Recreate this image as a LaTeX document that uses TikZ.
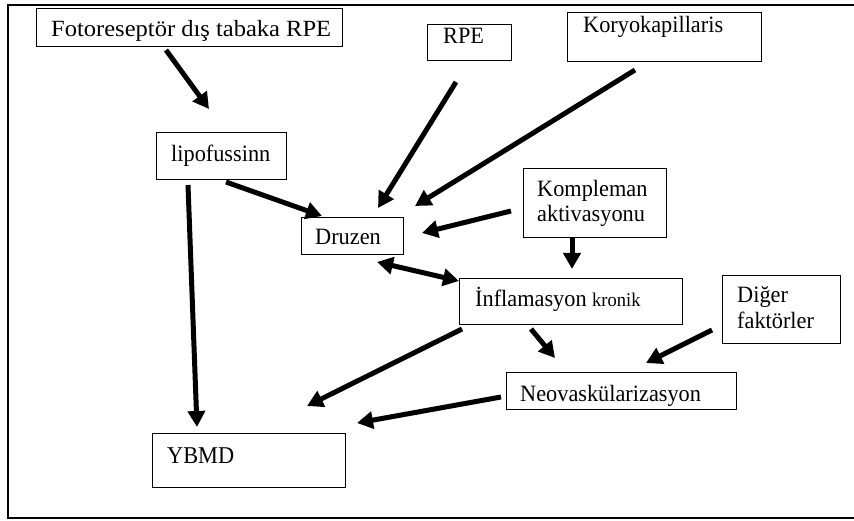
\documentclass[tikz,border=0pt]{standalone}
\usepackage{fontspec}
\setmainfont{Liberation Serif}
\usetikzlibrary{arrows.meta}
\begin{document}
\begin{tikzpicture}[x=1pt,y=-1pt,
  box/.style={draw,line width=1.4pt,rectangle,inner sep=0pt,anchor=north west},
  txt/.style={anchor=base west,inner sep=0pt,font=\fontsize{22.3}{25}\selectfont},
  arr/.style={line width=5pt,-{Triangle[length=16pt,width=17pt]}},
  darr/.style={line width=5pt,{Triangle[length=16pt,width=17pt]}-{Triangle[length=16pt,width=17pt]}}]
\useasboundingbox (0,0) rectangle (854,521);
% frame (open on the right)
\draw[line width=2pt] (856,5) -- (8,5) -- (8,518) -- (856,518);
% boxes
\node[box,minimum width=306pt,minimum height=38pt] (foto) at (36,8) {};
\node[box,minimum width=130pt,minimum height=47pt] (lipo) at (156,132) {};
\node[box,minimum width=102pt,minimum height=37pt] (druz) at (301,217) {};
\node[box,minimum width=84pt,minimum height=36pt] (rpe) at (427,24) {};
\node[box,minimum width=194pt,minimum height=49pt] (kory) at (567,12) {};
\node[box,minimum width=143pt,minimum height=69pt] (komp) at (523,168) {};
\node[box,minimum width=223pt,minimum height=46pt] (infl) at (459,278) {};
\node[box,minimum width=118pt,minimum height=68pt] (diger) at (722,275) {};
\node[box,minimum width=230pt,minimum height=37pt] (neo) at (506,372) {};
\node[box,minimum width=193pt,minimum height=54pt] (ybmd) at (152,433) {};
% texts
\node[txt] (foto-t) at (51,36.5) {\scalebox{1.1}[1.04]{Fotoreseptör dış tabaka RPE}};
\node[txt] (lipo-t) at (171,162) {\scalebox{1}[1.05]{lipofussinn}};
\node[txt] (druz-t) at (315,245) {\scalebox{1}[1.05]{Druzen}};
\node[txt] (rpe-t) at (443,43.5) {\scalebox{1}[1.05]{RPE}};
\node[txt] (kory-t) at (583,32.5) {\scalebox{1}[1.05]{Koryokapillaris}};
\node[txt] (komp-t1) at (537,197) {\scalebox{1}[1.05]{Kompleman}};
\node[txt] (komp-t2) at (537,222) {\scalebox{1}[1.05]{aktivasyonu}};
\node[txt] (infl-t) at (475,306.5) {\scalebox{1}[1.05]{İnflamasyon {\fontsize{18.5}{22}\selectfont kronik}}};
\node[txt] (diger-t1) at (737,303) {\scalebox{1}[1.05]{Diğer}};
\node[txt] (diger-t2) at (737,328) {\scalebox{1}[1.05]{faktörler}};
\node[txt] (neo-t) at (520,401.5) {\scalebox{1}[1.05]{Neovaskülarizasyon}};
\node[txt] (ybmd-t) at (167,463) {\scalebox{1}[1.08]{YBMD}};
% arrow end points
\coordinate (a1) at (166,50);  \coordinate (a2) at (209,109);
\coordinate (b1) at (456,82);  \coordinate (b2) at (378,208);
\coordinate (c1) at (635,70);  \coordinate (c2) at (415,206);
\coordinate (d1) at (511,211); \coordinate (d2) at (422,233);
\coordinate (e1) at (572,237); \coordinate (e2) at (572,269);
\coordinate (f1) at (226,182); \coordinate (f2) at (322,216);
\coordinate (g1) at (188,185); \coordinate (g2) at (197,427);
\coordinate (h1) at (377,262); \coordinate (h2) at (459,281);
\coordinate (i1) at (462,329); \coordinate (i2) at (307,406);
\coordinate (j1) at (531,329); \coordinate (j2) at (555,358);
\coordinate (k1) at (712,330); \coordinate (k2) at (646,363);
\coordinate (l1) at (501,397); \coordinate (l2) at (357,423);
% arrows
\draw[arr] (a1) -- (a2);
\draw[arr] (b1) -- (b2);
\draw[arr] (c1) -- (c2);
\draw[arr] (d1) -- (d2);
\draw[arr] (e1) -- (e2);
\draw[arr] (f1) -- (f2);
\draw[arr] (g1) -- (g2);
\draw[darr] (h1) -- (h2);
\draw[arr] (i1) -- (i2);
\draw[arr] (j1) -- (j2);
\draw[arr] (k1) -- (k2);
\draw[arr] (l1) -- (l2);
\end{tikzpicture}
\end{document}
